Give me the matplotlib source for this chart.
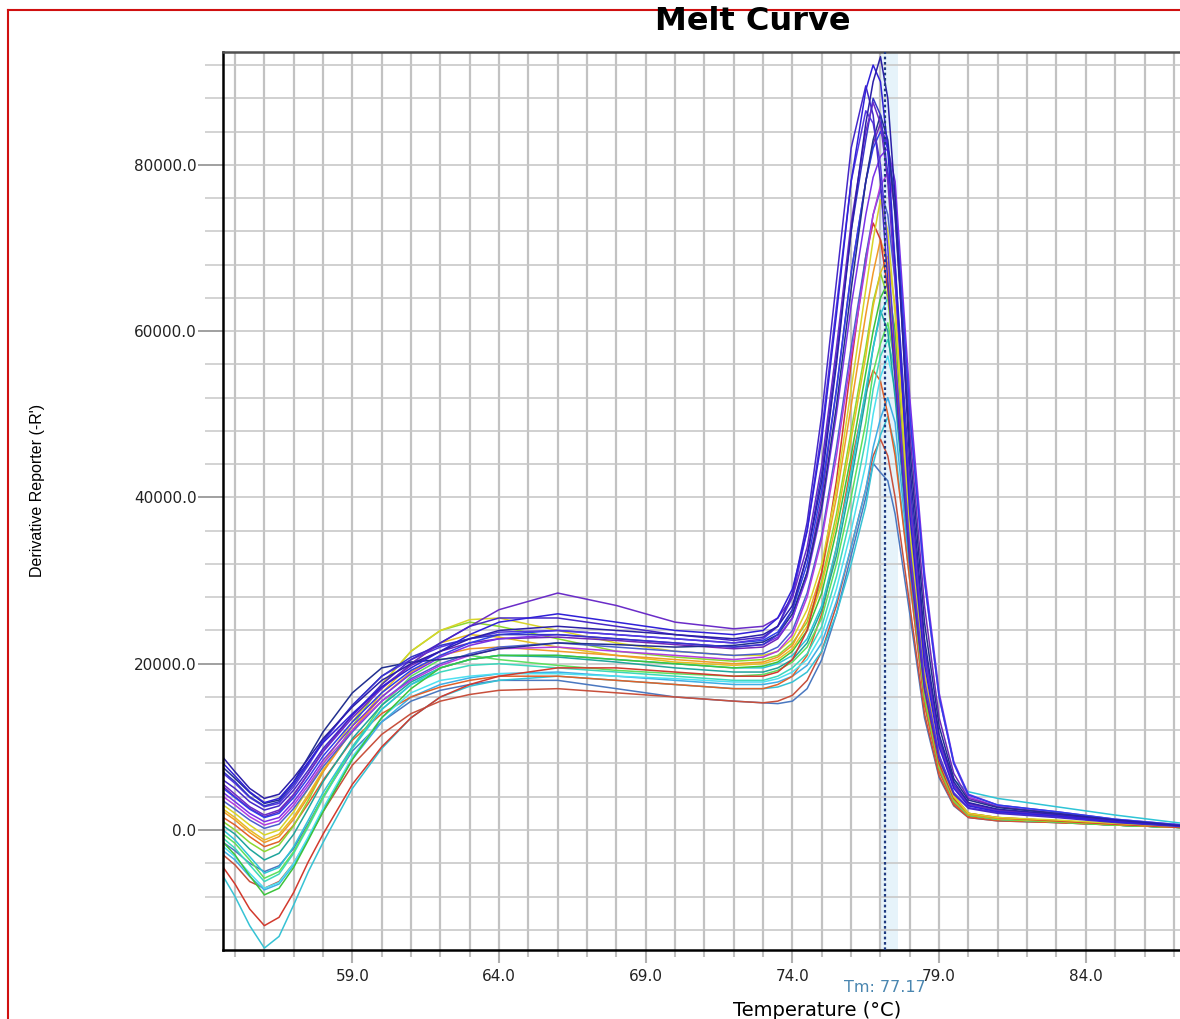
# -*- coding:utf-8 -*-
import matplotlib
matplotlib.use('Agg')
from matplotlib import pyplot as plt
from matplotlib.ticker import MultipleLocator, FixedLocator, FormatStrFormatter
from matplotlib.lines import Line2D

# temperature steps (deg C), same for every well
temps = [54.6, 55.0, 55.5, 56.0, 56.5, 57.0, 57.5, 58.0,
         59.0, 60.0, 61.0, 62.0, 63.0, 64.0,
         66.0, 68.0, 70.0, 72.0,
         73.0, 73.5, 74.0, 74.5, 75.0, 75.5, 76.0, 76.5, 76.75, 77.0, 77.25, 77.5,
         78.0, 78.5, 79.0, 79.5, 80.0,
         81.0, 83.0, 85.0, 87.3]

# derivative reporter (-R'), in thousands
well_01 = [8.7, 7.0, 5.0, 3.8, 4.3, 6.3, 8.6, 11.0, 14.8, 18.0, 20.0, 21.5, 23.0, 24.0, 24.5, 24.0, 23.5, 23.0,
           23.5, 24.5, 27.0, 33.0, 42.0, 56.0, 72.0, 85.0, 90.0, 93.0, 88.0, 76.0, 44.0, 23.0, 11.5, 5.8, 3.3, 2.5, 1.9, 1.2, 0.5]
well_02 = [8.0, 6.5, 4.6, 3.3, 3.8, 5.8, 8.2, 10.5, 14.0, 17.2, 19.5, 21.5, 23.5, 25.0, 26.0, 25.0, 24.0, 23.5,
           24.0, 25.5, 29.0, 36.0, 47.0, 62.0, 78.0, 89.0, 92.0, 90.0, 82.0, 68.0, 38.0, 20.0, 10.0, 5.0, 2.9, 2.2, 1.7, 1.0, 0.5]
well_03 = [6.0, 5.0, 3.4, 2.4, 2.9, 4.8, 7.2, 9.8, 13.8, 17.5, 20.5, 22.5, 24.5, 25.5, 25.5, 24.5, 23.5, 22.8,
           23.2, 24.5, 28.5, 37.0, 50.0, 66.0, 82.0, 89.5, 86.0, 78.0, 66.0, 54.0, 32.0, 17.0, 8.5, 4.3, 2.6, 2.0, 1.5, 0.9, 0.4]
well_04 = [5.5, 4.3, 2.8, 1.8, 2.4, 4.3, 6.8, 9.4, 13.5, 17.0, 20.0, 22.5, 24.5, 26.5, 28.5, 27.0, 25.0, 24.2,
           24.5, 25.5, 28.0, 34.0, 44.0, 58.0, 73.0, 84.0, 87.5, 85.0, 78.0, 66.0, 40.0, 21.0, 10.5, 5.3, 3.1, 2.4, 1.8, 1.1, 0.5]
well_05 = [7.5, 6.2, 4.5, 3.2, 3.6, 5.8, 8.8, 11.8, 16.5, 19.5, 20.2, 20.5, 21.0, 21.8, 22.5, 22.3, 22.0, 22.2,
           22.6, 23.5, 26.0, 31.0, 39.0, 51.0, 65.0, 78.0, 83.0, 86.0, 83.0, 74.0, 46.0, 25.0, 12.5, 6.2, 3.6, 2.7, 2.0, 1.2, 0.5]
well_06 = [5.0, 3.9, 2.5, 1.5, 2.0, 3.9, 6.3, 8.9, 13.0, 16.5, 19.2, 21.0, 22.5, 23.5, 24.0, 23.5, 23.0, 22.5,
           22.8, 23.8, 26.5, 32.0, 41.0, 53.0, 67.0, 78.0, 82.0, 84.0, 82.0, 76.0, 50.0, 30.0, 16.0, 8.0, 4.2, 3.0, 2.2, 1.3, 0.6]
well_07 = [4.5, 3.4, 2.0, 1.0, 1.5, 3.4, 5.8, 8.4, 12.5, 16.0, 18.8, 20.8, 22.2, 23.0, 23.5, 23.0, 22.5, 22.0,
           22.3, 23.2, 25.5, 30.5, 38.5, 50.0, 63.0, 74.0, 78.5, 81.0, 82.0, 78.0, 52.0, 31.0, 16.5, 8.2, 4.3, 3.0, 2.2, 1.3, 0.6]
well_08 = [6.8, 5.6, 3.9, 2.8, 3.2, 5.2, 7.8, 10.6, 15.0, 18.5, 20.5, 22.0, 23.0, 23.8, 24.0, 23.5, 23.0, 22.5,
           23.0, 24.5, 28.0, 36.0, 48.0, 63.0, 78.0, 86.5, 85.0, 80.0, 70.0, 57.0, 34.0, 18.0, 9.0, 4.5, 2.7, 2.1, 1.6, 1.0, 0.5]
well_09 = [4.0, 3.0, 1.6, 0.6, 1.1, 3.0, 5.4, 8.0, 12.0, 15.5, 18.0, 19.8, 21.0, 21.8, 22.0, 21.5, 21.0, 20.5,
           20.8, 21.5, 23.5, 28.0, 35.0, 45.0, 57.0, 68.0, 74.0, 77.5, 79.0, 75.0, 50.0, 30.0, 16.0, 8.0, 4.0, 2.8, 2.0, 1.2, 0.5]
well_10 = [3.5, 2.5, 1.2, 0.2, 0.7, 2.6, 5.0, 7.6, 11.8, 15.5, 18.2, 20.0, 21.2, 22.0, 22.5, 22.0, 21.5, 21.0,
           21.2, 22.0, 24.0, 28.5, 35.5, 46.0, 58.0, 69.0, 74.0, 77.0, 74.0, 66.0, 40.0, 21.0, 10.5, 5.2, 3.0, 2.3, 1.7, 1.0, 0.5]
well_11 = [3.0, 2.0, 0.6, -0.6, 0.0, 2.2, 5.0, 8.0, 13.0, 17.5, 21.5, 24.0, 25.3, 25.5, 24.0, 22.5, 21.5, 21.0,
           21.0, 21.5, 23.0, 26.5, 32.0, 41.0, 53.0, 65.0, 71.0, 75.8, 72.0, 62.0, 36.0, 18.0, 8.5, 4.0, 2.0, 1.5, 1.2, 0.8, 0.4]
well_12 = [-4.5, -6.5, -9.5, -11.5, -10.5, -7.5, -3.8, -0.5, 5.5, 10.0, 13.5, 16.0, 17.5, 18.5, 19.5, 19.5, 19.0, 18.5,
           18.5, 19.0, 20.5, 24.0, 31.0, 42.0, 56.0, 69.0, 73.0, 71.0, 65.0, 56.0, 33.0, 17.0, 8.0, 3.8, 2.0, 1.5, 1.1, 0.7, 0.3]
well_13 = [2.2, 1.2, -0.3, -1.5, -0.8, 1.3, 4.0, 7.0, 12.0, 16.0, 19.0, 21.0, 21.8, 22.0, 21.5, 21.0, 20.5, 20.0,
           20.2, 20.8, 22.2, 25.5, 31.0, 40.0, 51.0, 62.0, 67.0, 71.0, 68.0, 58.0, 34.0, 17.0, 8.0, 3.8, 1.9, 1.4, 1.1, 0.7, 0.3]
well_14 = [2.5, 1.5, 0.0, -1.2, -0.5, 1.6, 4.3, 7.2, 12.0, 16.5, 20.0, 22.5, 23.5, 23.2, 22.0, 21.0, 20.2, 19.8,
           20.0, 20.5, 21.8, 24.5, 29.5, 37.0, 47.0, 57.0, 63.0, 67.0, 69.0, 63.0, 38.0, 19.0, 9.0, 4.2, 2.0, 1.5, 1.1, 0.7, 0.3]
well_15 = [1.0, 0.0, -1.5, -2.6, -1.8, 0.5, 3.6, 7.0, 12.5, 17.5, 21.5, 24.0, 25.0, 24.5, 23.0, 21.5, 20.8, 20.3,
           20.5, 21.0, 22.5, 25.0, 30.0, 38.0, 48.0, 58.0, 63.5, 67.0, 64.0, 55.0, 32.0, 16.0, 7.5, 3.5, 1.8, 1.3, 1.0, 0.6, 0.3]
well_16 = [-1.5, -3.0, -5.5, -7.8, -7.0, -4.5, -1.2, 2.2, 8.5, 13.5, 17.0, 19.5, 20.5, 21.0, 21.0, 20.5, 20.0, 19.5,
           19.7, 20.2, 21.5, 24.0, 28.5, 36.0, 45.0, 55.0, 60.0, 64.0, 65.8, 60.0, 36.0, 18.0, 8.5, 4.0, 2.0, 1.4, 1.0, 0.6, 0.3]
well_17 = [0.0, -1.2, -3.2, -5.2, -4.5, -2.0, 1.2, 4.5, 10.0, 14.5, 17.5, 19.5, 20.5, 21.0, 21.0, 20.5, 20.0, 19.5,
           19.5, 20.0, 21.0, 23.0, 27.0, 34.0, 43.0, 53.0, 58.0, 62.0, 64.0, 60.0, 40.0, 22.0, 11.0, 6.0, 4.6, 3.8, 2.8, 1.8, 0.8]
well_18 = [0.5, -0.5, -2.3, -3.6, -2.8, -0.5, 2.6, 5.8, 11.0, 15.0, 17.8, 19.5, 20.5, 21.0, 20.8, 20.2, 19.5, 19.0,
           19.0, 19.5, 20.5, 22.5, 26.5, 33.0, 42.0, 52.0, 58.0, 62.5, 60.0, 52.0, 32.0, 16.0, 7.5, 3.5, 1.8, 1.3, 1.0, 0.6, 0.3]
well_19 = [-0.5, -1.6, -3.6, -5.8, -5.0, -2.6, 0.6, 4.0, 10.0, 15.0, 18.5, 20.5, 21.0, 20.5, 19.8, 19.2, 18.8, 18.5,
           18.7, 19.2, 20.2, 22.0, 25.5, 32.0, 40.0, 49.0, 55.0, 58.5, 61.0, 56.0, 35.0, 17.0, 8.0, 3.6, 1.8, 1.3, 1.0, 0.6, 0.3]
well_20 = [-1.0, -2.2, -4.2, -6.2, -5.3, -2.8, 0.4, 3.8, 9.8, 14.5, 17.5, 19.0, 19.8, 20.0, 19.5, 19.0, 18.5, 18.0,
           18.0, 18.5, 19.5, 21.2, 24.5, 30.5, 38.0, 47.0, 53.0, 57.0, 59.0, 55.0, 34.0, 17.0, 8.0, 3.6, 1.8, 1.3, 1.0, 0.6, 0.3]
well_21 = [-2.0, -3.2, -5.2, -7.0, -6.3, -4.0, -0.8, 2.6, 8.8, 13.5, 16.5, 18.0, 18.5, 18.8, 18.8, 18.5, 18.2, 17.8,
           17.8, 18.2, 19.0, 20.5, 23.5, 29.0, 36.0, 44.0, 50.0, 54.5, 57.0, 53.0, 33.0, 16.5, 7.8, 3.5, 1.8, 1.3, 1.0, 0.6, 0.3]
well_22 = [1.5, 0.6, -0.8, -2.0, -1.4, 0.6, 3.2, 6.0, 10.8, 14.0, 16.0, 17.2, 18.0, 18.5, 18.5, 18.0, 17.5, 17.0,
           17.0, 17.5, 18.5, 21.0, 26.0, 34.0, 44.0, 52.5, 55.3, 54.0, 50.0, 45.0, 30.0, 15.0, 7.0, 3.2, 1.6, 1.2, 0.9, 0.6, 0.3]
well_23 = [-2.5, -3.6, -5.6, -7.2, -6.5, -4.2, -1.0, 2.4, 8.5, 13.0, 16.0, 17.5, 18.3, 18.8, 19.0, 18.5, 18.0, 17.5,
           17.5, 17.8, 18.5, 19.8, 22.5, 27.5, 34.0, 41.0, 46.0, 49.5, 52.0, 49.0, 31.0, 16.0, 7.5, 3.4, 1.8, 1.3, 1.0, 0.6, 0.3]
well_24 = [-5.6, -8.0, -11.5, -14.2, -12.8, -9.0, -5.0, -1.5, 5.0, 9.8, 13.5, 16.0, 17.3, 18.0, 18.5, 18.0, 17.5, 17.0,
           17.0, 17.2, 17.8, 19.0, 21.5, 26.0, 32.0, 39.0, 44.0, 47.5, 49.7, 46.0, 30.0, 15.5, 7.2, 3.3, 1.7, 1.3, 1.0, 0.6, 0.3]
well_25 = [-3.0, -4.2, -6.2, -7.0, -6.2, -4.0, -1.0, 2.2, 7.8, 11.5, 14.0, 15.5, 16.3, 16.8, 17.0, 16.5, 16.0, 15.5,
           15.3, 15.5, 16.2, 18.0, 21.5, 27.0, 34.0, 41.0, 45.0, 47.0, 45.0, 40.0, 27.0, 14.0, 6.5, 3.0, 1.5, 1.1, 0.9, 0.6, 0.3]
well_26 = [-1.5, -2.5, -4.0, -5.0, -4.3, -2.2, 0.8, 4.0, 9.5, 13.0, 15.5, 16.8, 17.5, 18.0, 18.0, 17.0, 16.0, 15.5,
           15.3, 15.2, 15.5, 17.0, 20.5, 26.0, 33.0, 40.0, 44.1, 43.0, 42.0, 38.0, 26.0, 13.5, 6.3, 2.9, 1.5, 1.1, 0.9, 0.6, 0.3]
well_27 = [7.0, 5.8, 4.0, 2.9, 3.4, 5.5, 8.0, 10.8, 15.0, 18.5, 20.8, 22.2, 23.0, 23.5, 23.5, 23.0, 22.5, 22.0,
           22.3, 23.5, 26.5, 33.0, 43.0, 57.0, 72.0, 83.0, 88.0, 86.0, 79.0, 68.0, 42.0, 22.0, 11.0, 5.5, 3.2, 2.4, 1.8, 1.1, 0.5]
well_28 = [5.2, 4.0, 2.6, 1.6, 2.2, 4.2, 6.8, 9.5, 13.8, 17.2, 19.8, 21.5, 22.5, 23.0, 23.2, 22.8, 22.3, 21.8,
           22.0, 23.0, 25.5, 31.0, 40.0, 53.0, 67.0, 78.0, 82.5, 85.0, 82.0, 74.0, 48.0, 27.0, 13.5, 6.8, 3.8, 2.8, 2.0, 1.2, 0.5]

# drawing order: low peaks first, blue wells last (on top)
wells = [well_26, well_25, well_24, well_23, well_22, well_21, well_20, well_19, well_18, well_17,
         well_16, well_15, well_14, well_13, well_12, well_11, well_10, well_09, well_28, well_07,
         well_06, well_05, well_08, well_27, well_04, well_03, well_02, well_01]
colors = ['#4a78c0', '#c8503c', '#36c2d4', '#3eaee6', '#e0602a', '#4ee0f0', '#3cd8bc', '#5ee05e', '#1fa59c', '#2ec4d6',
          '#3cc43c', '#8cd830', '#e6be22', '#f09a28', '#d23a2e', '#d8d428', '#4a60d0', '#b03ce0', '#7028b8', '#7a30e8',
          '#2f3fe8', '#22308f', '#5538e0', '#3535c8', '#6a2cc8', '#4528c8', '#3020d8', '#2b1fa8']

tm_value = 77.17
x_major = [59, 64, 69, 74, 79, 84]


def main():
    fig = plt.figure(figsize=(11.8, 10.19), dpi=100)
    ax = fig.add_axes([223 / 1180, 69 / 1019, 957 / 1180, 898 / 1019])

    # Tm marker: pale band plus dotted line
    ax.axvspan(76.95, 77.6, color='#e6f3fa', zorder=0.5, lw=0)
    for y, c in zip(wells, colors):
        ax.plot(temps, [v * 1000 for v in y], color=c, lw=1.1, zorder=2)
    ax.axvline(tm_value, color='#1f3a80', lw=1.6, ls=(0, (1.2, 1.2)), zorder=3)

    ax.set_xlim(54.59, 87.21)
    ax.set_ylim(-14430, 93570)

    ax.xaxis.set_major_locator(FixedLocator(x_major))
    ax.xaxis.set_minor_locator(MultipleLocator(1))
    ax.yaxis.set_major_locator(MultipleLocator(20000))
    ax.yaxis.set_minor_locator(MultipleLocator(4000))
    ax.xaxis.set_major_formatter(FormatStrFormatter('%.1f'))
    ax.yaxis.set_major_formatter(FormatStrFormatter('%.1f'))

    ax.set_axisbelow(True)
    ax.grid(which='both', axis='x', color='#c2c2c2', lw=1.6)
    ax.grid(which='both', axis='y', color='#c8c8c8', lw=1.2)

    ax.spines['right'].set_visible(False)
    ax.spines['left'].set_linewidth(1.8)
    ax.spines['bottom'].set_linewidth(1.8)
    ax.spines['top'].set_linewidth(1.8)
    ax.spines['top'].set_color('#505050')

    # tick lengths in points (px * 0.72)
    ax.tick_params(axis='x', which='major', length=9.4, width=1.5, color='#b0b0b0',
                   pad=4.5, labelsize=11, labelcolor='#222222')
    ax.tick_params(axis='x', which='minor', length=5, width=1.5, color='#c0c0c0')
    ax.tick_params(axis='y', which='major', length=18, width=1.2, color='#909090',
                   pad=1, labelsize=11, labelcolor='#222222')
    ax.tick_params(axis='y', which='minor', length=13, width=1.2, color='#cccccc')

    # texts
    fig.text(753 / 1180, 1 - 21 / 1019, 'Melt Curve', ha='center', va='center',
             fontsize=23, fontweight='heavy')
    fig.text(885 / 1180, 1 - 988 / 1019, 'Tm: 77.17', ha='center', va='center',
             fontsize=11.5, color='#4a86b0')
    fig.text(817 / 1180, 1 - 1010 / 1019, 'Temperature (°C)', ha='center', va='center',
             fontsize=14)
    fig.text(38 / 1180, 1 - 490 / 1019, "Derivative Reporter (-R')", ha='center', va='center',
             rotation=90, fontsize=11.5, family='Liberation Sans')

    # red frame of the screenshot
    fig.add_artist(Line2D([8 / 1180, 1], [1 - 10 / 1019] * 2, color='#d01010', lw=1.5))
    fig.add_artist(Line2D([8 / 1180] * 2, [0, 1 - 10 / 1019], color='#d01010', lw=1.5))

    fig.savefig('out.png', dpi=100)


if __name__ == '__main__':
    main()
